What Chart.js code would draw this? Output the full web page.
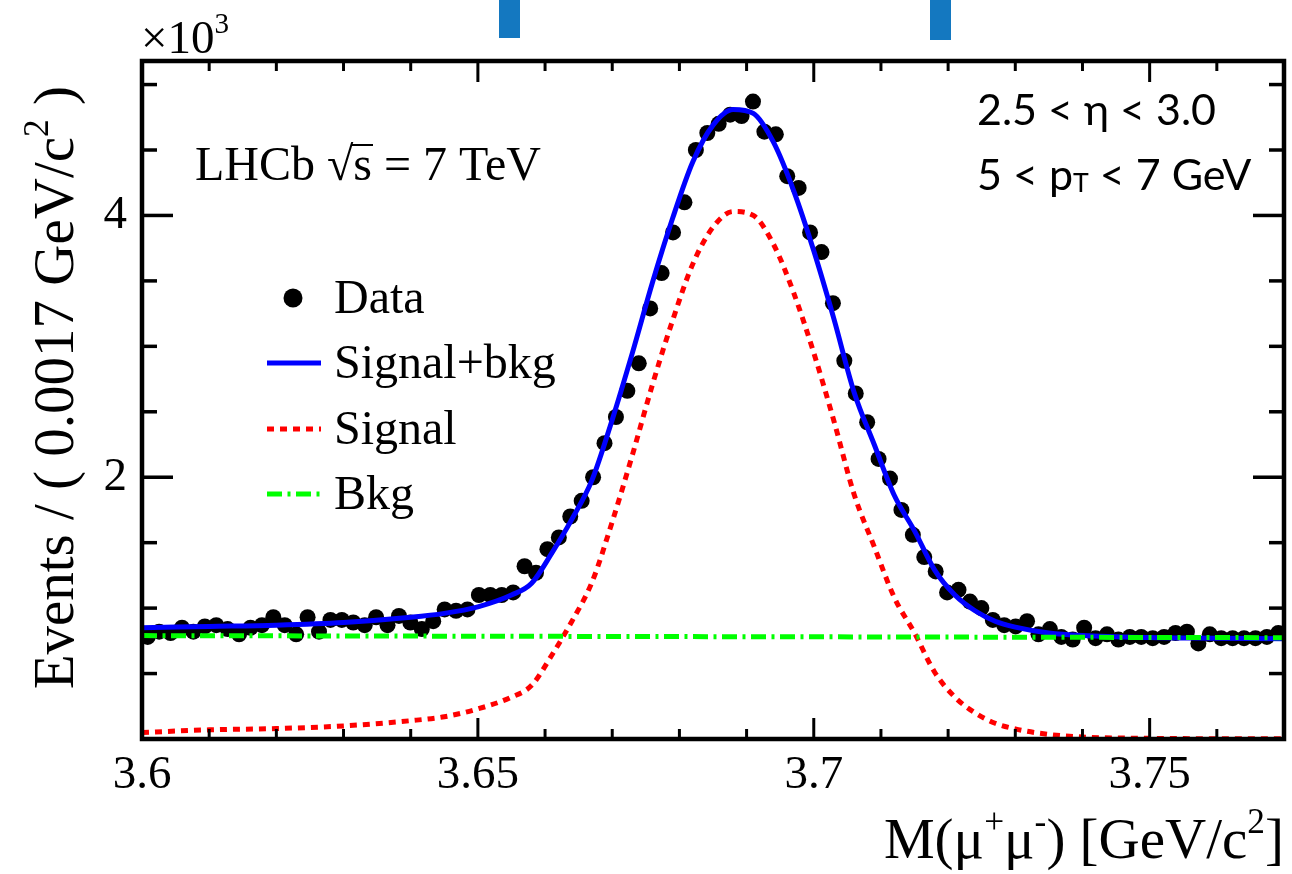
<!DOCTYPE html>
<html>
<head>
<meta charset="utf-8">
<script src="https://cdn.jsdelivr.net/npm/chart.js@4"></script>
<style>
html,body{margin:0;padding:0;background:#fff;}
#wrap{width:1292px;height:874px;position:relative;}
</style>
</head>
<body>
<div id="wrap"><canvas id="c" width="1292" height="874"></canvas></div>
<script>
// ---------- data (y in units of 10^3 events) ----------
const binLow = 3.6;
const binWidth = 0.0017;
const counts = [
  0.78,0.82,0.81,0.85,0.82,0.86,0.87,0.84,0.80,0.85,
  0.87,0.93,0.87,0.80,0.93,0.82,0.91,0.91,0.89,0.87,
  0.93,0.87,0.94,0.89,0.84,0.90,0.99,0.98,0.99,1.10,
  1.10,1.10,1.12,1.32,1.27,1.45,1.54,1.70,1.82,2.00,
  2.26,2.46,2.66,2.87,3.29,3.56,3.87,4.10,4.50,4.63,
  4.70,4.77,4.76,4.87,4.64,4.62,4.30,4.21,3.87,3.72,
  3.33,2.89,2.64,2.42,2.14,1.99,1.75,1.56,1.39,1.28,
  1.12,1.14,1.05,1.00,0.91,0.87,0.86,0.90,0.80,0.84,
  0.78,0.76,0.85,0.77,0.80,0.76,0.78,0.78,0.77,0.78,
  0.81,0.82,0.73,0.80,0.77,0.77,0.77,0.77,0.78,0.81
];
const curveMass = [3.600,3.610,3.620,3.630,3.640,3.645,3.650,3.655,3.658,3.661,3.664,3.667,3.670,3.673,3.676,3.679,3.682,3.685,3.688,3.691,3.694,3.697,3.700,3.703,3.706,3.709,3.712,3.715,3.718,3.721,3.724,3.727,3.730,3.735,3.740,3.750,3.760,3.770];
const sigPlusBkg = [0.85,0.86,0.87,0.89,0.93,0.96,1.01,1.10,1.19,1.42,1.68,1.98,2.44,2.95,3.49,3.98,4.41,4.69,4.81,4.78,4.56,4.19,3.73,3.21,2.65,2.25,1.86,1.59,1.29,1.10,0.98,0.90,0.855,0.81,0.79,0.775,0.77,0.765];
const signalOnly = [0.05,0.07,0.08,0.10,0.14,0.17,0.23,0.32,0.41,0.64,0.90,1.20,1.66,2.17,2.71,3.20,3.63,3.91,4.03,4.00,3.78,3.41,2.95,2.43,1.87,1.47,1.08,0.81,0.51,0.32,0.20,0.12,0.077,0.035,0.015,0.005,0.002,0.001];
const bkgMass = [3.600,3.770];
const bkgOnly = [0.790,0.774];

const xMajorTicks = [3.6,3.65,3.7,3.75];
const xTickLabels = ['3.6','3.65','3.7','3.75'];
const xMinorTicks = [3.61,3.62,3.63,3.64,3.66,3.67,3.68,3.69,3.71,3.72,3.73,3.74,3.76];
const yMajorTicks = [2,4];
const yTickLabels = ['2','4'];
const yMinorTicks = [0.5,1,1.5,2.5,3,3.5,4.5,5];
const xRange = [3.6,3.77];
const yRange = [0,5.18];

const legendLabels = ['Data','Signal+bkg','Signal','Bkg'];

// ---------- helpers ----------
const SERIF = "'Liberation Serif', 'Times New Roman', serif";
const SANS = "Lato, 'Open Sans', sans-serif";
Chart.defaults.font.family = SERIF;

function drawRich(ctx, parts, x, y, align, size, family) {
  let total = 0;
  const items = parts.map(p => {
    const s = (p.sup || p.sub) ? size * 0.62 : size;
    ctx.font = s + 'px ' + family;
    const w = ctx.measureText(p.t).width;
    total += w;
    return Object.assign({}, p, {s: s, w: w});
  });
  let cx = align === 'right' ? x - total : (align === 'center' ? x - total / 2 : x);
  ctx.textAlign = 'left';
  ctx.textBaseline = 'alphabetic';
  items.forEach(it => {
    ctx.font = it.s + 'px ' + family;
    const dy = it.sup ? -size * 0.43 : (it.sub ? size * 0.05 : 0);
    ctx.fillText(it.t, cx, y + dy);
    it.x0 = cx;
    cx += it.w;
  });
  return items;
}

const pageEdgePlugin = {
  id: 'pageEdge',
  beforeDraw(chart) {
    // fragments of the page header visible at the top edge of the reference
    const c = chart.ctx;
    c.save();
    c.fillStyle = '#1478c0';
    c.fillRect(499, 0, 21, 38);
    c.fillRect(930, 0, 21, 40);
    c.restore();
  }
};

const decorPlugin = {
  id: 'decor',
  afterDatasetsDraw(chart) {
    const {ctx, chartArea: a, scales: {x, y}} = chart;
    ctx.save();
    ctx.strokeStyle = '#000';
    ctx.fillStyle = '#000';
    ctx.lineCap = 'butt';
    const seg = (x1, y1, x2, y2, w) => {
      ctx.lineWidth = w; ctx.beginPath(); ctx.moveTo(x1, y1); ctx.lineTo(x2, y2); ctx.stroke();
    };
    xMajorTicks.forEach(v => { const p = x.getPixelForValue(v); seg(p, a.bottom, p, a.bottom - 21, 3); seg(p, a.top, p, a.top + 21, 3); });
    xMinorTicks.forEach(v => { const p = x.getPixelForValue(v); seg(p, a.bottom, p, a.bottom - 10, 3); seg(p, a.top, p, a.top + 10, 3); });
    yMajorTicks.forEach(v => { const p = y.getPixelForValue(v); seg(a.left, p, a.left + 31, p, 3.5); seg(a.right, p, a.right - 31, p, 3.5); });
    yMinorTicks.forEach(v => { const p = y.getPixelForValue(v); seg(a.left, p, a.left + 15, p, 3.5); seg(a.right, p, a.right - 15, p, 3.5); });
    ctx.lineWidth = 4.5;
    ctx.strokeRect(a.left, a.top, a.right - a.left, a.bottom - a.top);

    // axis titles
    drawRich(ctx, [{t:'M(μ'},{t:'+',sup:true},{t:'μ'},{t:'-',sup:true},{t:') [GeV/c'},{t:'2',sup:true},{t:']'}], a.right, 858, 'right', 57, SERIF);
    ctx.save();
    ctx.translate(73, 86);
    ctx.rotate(-Math.PI / 2);
    drawRich(ctx, [{t:'Events / ( 0.0017 GeV/c'},{t:'2',sup:true},{t:' )'}], 0, 0, 'right', 57, SERIF);
    ctx.restore();

    // exponent
    drawRich(ctx, [{t:'×10'},{t:'3',sup:true}], 141, 53, 'left', 47, SERIF);

    // LHCb label
    const it = drawRich(ctx, [{t:'LHCb '},{t:'√'},{t:'s'},{t:' = 7 TeV'}], 195, 180, 'left', 48, SERIF);
    const sItem = it[2];
    seg(sItem.x0 - 2, 145, sItem.x0 + sItem.w + 1, 145, 2);

    // top-right text
    drawRich(ctx, [{t:'2.5 < η < 3.0'}], 977, 125, 'left', 43, SANS);
    drawRich(ctx, [{t:'5 < p'},{t:'T',sub:true},{t:' < 7 GeV'}], 977, 190, 'left', 43, SANS);

    // legend
    const ds = chart.data.datasets;
    const rowY = [298, 363, 429, 494];
    ctx.fillStyle = ds[0].pointBackgroundColor;
    ctx.beginPath(); ctx.arc(293, rowY[0], 9.5, 0, Math.PI * 2); ctx.fill();
    for (let k = 1; k < 4; k++) {
      ctx.save();
      ctx.strokeStyle = ds[k].borderColor;
      ctx.lineWidth = ds[k].borderWidth;
      ctx.setLineDash(ds[k].borderDash || []);
      ctx.beginPath(); ctx.moveTo(267, rowY[k]); ctx.lineTo(321, rowY[k]); ctx.stroke();
      ctx.restore();
    }
    ctx.fillStyle = '#000';
    for (let k = 0; k < 4; k++) {
      drawRich(ctx, [{t: legendLabels[k]}], 334, rowY[k] + 15, 'left', 48, SERIF);
    }
    ctx.restore();
  }
};

const ctx = document.getElementById('c').getContext('2d');
new Chart(ctx, {
  type: 'scatter',
  data: {
    datasets: [
      {
        label: legendLabels[0],
        data: counts.map((v, i) => ({x: binLow + binWidth * (i + 0.5), y: v})),
        showLine: false,
        pointRadius: 8,
        pointBackgroundColor: '#000',
        pointBorderColor: '#000',
        pointBorderWidth: 0,
        order: 4
      },
      {
        label: legendLabels[1],
        data: curveMass.map((m, i) => ({x: m, y: sigPlusBkg[i]})),
        showLine: true,
        borderColor: '#0000ff',
        borderWidth: 5,
        pointRadius: 0,
        cubicInterpolationMode: 'monotone',
        order: 3
      },
      {
        label: legendLabels[2],
        data: curveMass.map((m, i) => ({x: m, y: signalOnly[i]})),
        showLine: true,
        borderColor: '#ff0000',
        borderWidth: 5,
        borderDash: [7, 6],
        pointRadius: 0,
        cubicInterpolationMode: 'monotone',
        order: 2
      },
      {
        label: legendLabels[3],
        data: bkgMass.map((m, i) => ({x: m, y: bkgOnly[i]})),
        showLine: true,
        borderColor: '#00ff00',
        borderWidth: 5,
        borderDash: [15, 5.5, 3, 5.5],
        pointRadius: 0,
        order: 1
      }
    ]
  },
  options: {
    responsive: false,
    animation: false,
    devicePixelRatio: 1,
    layout: {padding: {left: 0, right: 5, top: 61, bottom: 0}},
    plugins: {legend: {display: false}, tooltip: {enabled: false}},
    scales: {
      x: {
        type: 'linear',
        min: xRange[0], max: xRange[1],
        afterBuildTicks(s) { s.ticks = xMajorTicks.map(v => ({value: v})); },
        afterFit(s) { s.height = 135; },
        ticks: {
          callback: (v, i) => xTickLabels[i],
          font: {family: SERIF, size: 47},
          color: '#000',
          padding: 8,
          maxRotation: 0,
          autoSkip: false
        },
        grid: {display: false, drawTicks: false},
        border: {display: false}
      },
      y: {
        type: 'linear',
        min: yRange[0], max: yRange[1],
        afterBuildTicks(s) { s.ticks = yMajorTicks.map(v => ({value: v})); },
        afterFit(s) { s.width = 142; },
        ticks: {
          callback: (v, i) => yTickLabels[i],
          font: {family: SERIF, size: 47},
          color: '#000',
          padding: 15,
          autoSkip: false
        },
        grid: {display: false, drawTicks: false},
        border: {display: false}
      }
    }
  },
  plugins: [pageEdgePlugin, decorPlugin]
});
</script>
</body>
</html>
